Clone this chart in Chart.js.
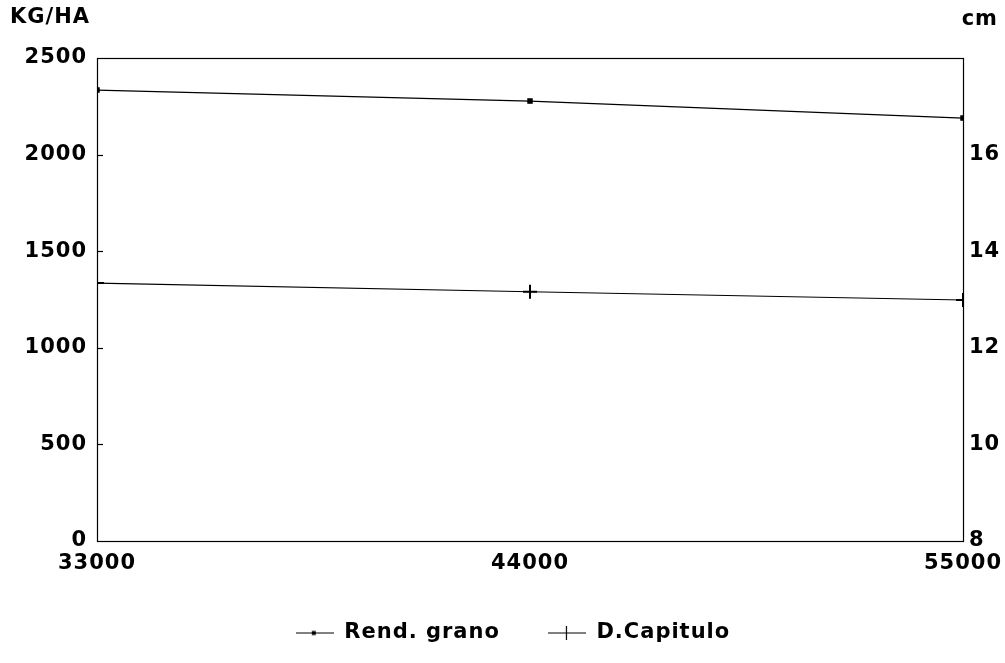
<!DOCTYPE html>
<html>
<head>
<meta charset="utf-8">
<script src="https://cdn.jsdelivr.net/npm/chart.js@4/dist/chart.umd.min.js"></script>
<style>
  html, body { margin: 0; padding: 0; background: #fff; }
  #wrap { width: 1005px; height: 663px; }
</style>
</head>
<body>
<div id="wrap"><canvas id="chart"></canvas></div>
<script>
// densidad de siembra (plantas/ha)
const densidades = [33000, 44000, 55000];
const rendGrano = [2334, 2277, 2189];   // KG/HA
const dCapitulo = [13.34, 13.16, 12.99]; // cm
const ticksKg = [0, 500, 1000, 1500, 2000, 2500];
const ticksCm = [8, 10, 12, 14, 16];

const FONT = { family: 'DejaVu Sans, sans-serif', size: 21, weight: 'bold' };
const SPACING = '1px';

function legendIcon(kind) {
    const c = document.createElement('canvas');
    c.width = 38; c.height = 14;
    const g = c.getContext('2d');
    g.strokeStyle = '#000'; g.fillStyle = '#000'; g.lineWidth = 1.2;
    g.beginPath(); g.moveTo(0, 7.5); g.lineTo(38, 7.5); g.stroke();
    if (kind === 'dot') {
        g.fillRect(16, 5.5, 4, 4);
    } else {
        g.beginPath(); g.moveTo(18.5, 0); g.lineTo(18.5, 14); g.stroke();
    }
    return c;
}

const frame = {
    id: 'frame',
    beforeDraw(chart) {
        chart.ctx.letterSpacing = SPACING;
    },
    afterDraw(chart) {
        const { ctx, chartArea: a } = chart;
        ctx.save();
        ctx.strokeStyle = '#000';
        ctx.lineWidth = 1.2;
        ctx.strokeRect(a.left + 0.5, a.top + 0.5, a.right - a.left, a.bottom - a.top);
        // small inner ticks on the left axis
        const y = chart.scales.y;
        ticksKg.slice(1, -1).forEach(v => {
            const py = Math.round(y.getPixelForValue(v)) + 0.5;
            ctx.beginPath(); ctx.moveTo(a.left, py); ctx.lineTo(a.left + 6, py); ctx.stroke();
        });
        ctx.fillStyle = '#000';
        ctx.letterSpacing = SPACING;
        ctx.font = 'bold 21px DejaVu Sans, sans-serif';
        ctx.textBaseline = 'middle';
        ctx.textAlign = 'left';
        ctx.fillText('KG/HA', 10, 18);
        ctx.textAlign = 'right';
        ctx.fillText('cm', 998, 20);
        ctx.restore();
    }
};

new Chart(document.getElementById('chart'), {
    type: 'line',
    data: {
        datasets: [{
            label: 'Rend. grano',
            data: densidades.map((d, i) => ({ x: d, y: rendGrano[i] })),
            yAxisID: 'y',
            borderColor: '#000',
            backgroundColor: '#000',
            borderWidth: 1.2,
            pointStyle: 'rect',
            pointRadius: 3,
            tension: 0
        }, {
            label: 'D.Capitulo',
            data: densidades.map((d, i) => ({ x: d, y: dCapitulo[i] })),
            yAxisID: 'y1',
            borderColor: '#000',
            backgroundColor: '#000',
            borderWidth: 1.2,
            pointStyle: 'cross',
            pointRadius: 7,
            pointBorderWidth: 2,
            tension: 0
        }]
    },
    options: {
        responsive: true,
        maintainAspectRatio: false,
        animation: false,
        layout: { padding: { top: 58, bottom: 10, left: 0, right: 0 } },
        scales: {
            x: {
                type: 'linear',
                min: 33000, max: 55000,
                afterBuildTicks: s => { s.ticks = densidades.map(v => ({ value: v })); },
                afterFit: s => { s.height = 33; s.paddingLeft = 0; s.paddingRight = 0; },
                grid: { display: false, drawTicks: false },
                border: { display: false },
                ticks: { color: '#000', font: FONT, padding: 10, maxRotation: 0, callback: v => String(v) }
            },
            y: {
                position: 'left',
                min: 0, max: 2500,
                afterBuildTicks: s => { s.ticks = ticksKg.map(v => ({ value: v })); },
                afterFit: s => { s.width = 97; s.paddingTop = 0; s.paddingBottom = 0; },
                grid: { display: false, drawTicks: false },
                border: { display: false },
                ticks: { color: '#000', font: FONT, padding: 10, callback: v => String(v) }
            },
            y1: {
                position: 'right',
                min: 8, max: 18,
                afterBuildTicks: s => { s.ticks = ticksCm.map(v => ({ value: v })); },
                afterFit: s => { s.width = 42; s.paddingTop = 0; s.paddingBottom = 0; },
                grid: { display: false, drawTicks: false },
                border: { display: false },
                ticks: { color: '#000', font: FONT, padding: 6, callback: v => String(v) }
            }
        },
        plugins: {
            legend: {
                position: 'bottom',
                labels: {
                    color: '#000',
                    font: FONT,
                    usePointStyle: true,
                    pointStyleWidth: 38,
                    padding: 48,
                    generateLabels: chart => chart.data.datasets.map((ds, i) => ({
                        text: ds.label,
                        pointStyle: legendIcon(i === 0 ? 'dot' : 'plus'),
                        fontColor: '#000',
                        datasetIndex: i
                    }))
                }
            },
            tooltip: { enabled: false }
        }
    },
    plugins: [frame]
});
</script>
</body>
</html>
